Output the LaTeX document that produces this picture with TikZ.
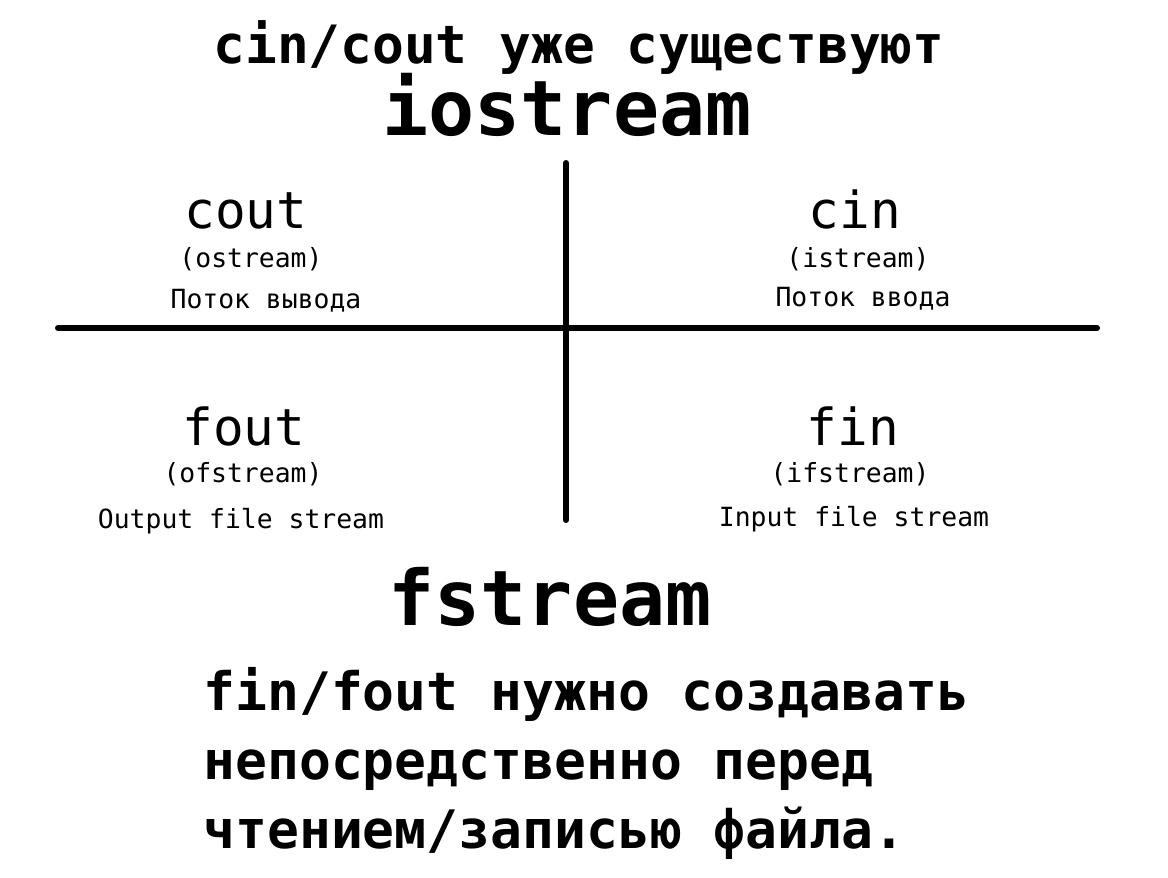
\documentclass[tikz,border=0pt]{standalone}
\usepackage{fontspec}
\setmainfont{DejaVu Sans Mono}

\begin{document}
\begin{tikzpicture}[x=0.5pt,y=-0.5pt,
  headline/.style={anchor=base,inner sep=0pt,font=\fontsize{26.4}{30}\selectfont\bfseries},
  libname/.style={anchor=base,inner sep=0pt,font=\fontsize{38.3}{44}\selectfont\bfseries},
  objname/.style={anchor=base,inner sep=0pt,font=\fontsize{25.5}{30}\selectfont},
  note/.style={anchor=base,inner sep=0pt,font=\fontsize{13.2}{16}\selectfont},
  remark/.style={anchor=base west,inner sep=0pt,font=\fontsize{26.5}{30}\selectfont\bfseries}]
\useasboundingbox (0,0) rectangle (1168,878);
\draw (579,63) node[headline](exists) {cin/cout уже существуют};
\draw (567,135) node[libname](iostream) {iostream};
\draw (246,228) node[objname](cout) {cout};
\draw (251,267) node[note](ostream) {(ostream)};
\draw (266,308) node[note](coutinfo) {Поток вывода};
\draw (855,228) node[objname](cin) {cin};
\draw (858,267) node[note](istream) {(istream)};
\draw (863,306) node[note](cininfo) {Поток ввода};
\draw (244,445) node[objname](fout) {fout};
\draw (243,482) node[note](ofstream) {(ofstream)};
\draw (241,528) node[note](foutinfo) {Output file stream};
\draw (853,445) node[objname](fin) {fin};
\draw (850,482) node[note](ifstream) {(ifstream)};
\draw (854,526) node[note](fininfo) {Input file stream};
\draw (550,625) node[libname](fstream) {fstream};
\draw (203,710) node[remark](line1) {fin/fout нужно создавать};
\draw (203,779) node[remark](line2) {непосредственно перед};
\draw (203,848) node[remark](line3) {чтением/записью файла.};
\coordinate (top) at (566,163);
\coordinate (bottom) at (566,520);
\coordinate (left) at (58,328);
\coordinate (right) at (1097,328);
\draw[line width=3pt,line cap=round] (top) -- (bottom);
\draw[line width=3pt,line cap=round] (left) -- (right);
\end{tikzpicture}
\end{document}
